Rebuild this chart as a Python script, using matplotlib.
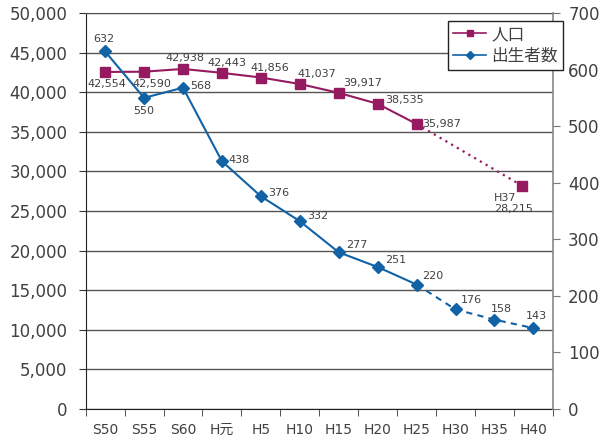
import matplotlib
matplotlib.use("Agg")
import matplotlib.pyplot as plt
from matplotlib.ticker import FuncFormatter, FixedLocator
from matplotlib.lines import Line2D

plt.rcParams['font.family'] = ['DejaVu Sans', 'Noto Sans CJK JP']

categories = ["S50", "S55", "S60", "H元", "H5", "H10", "H15", "H20", "H25", "H30", "H35", "H40"]
population = [42554, 42590, 42938, 42443, 41856, 41037, 39917, 38535, 35987]
pop_proj_label = "H37"
pop_proj_value = 28215
pop_proj_slot = 10.7
births = [632, 550, 568, 438, 376, 332, 277, 251, 220, 176, 158, 143]
births_actual_count = 9

POP_COLOR = "#961a5f"
BIRTH_COLOR = "#1262a6"
TEXT_COLOR = "#404040"

fig = plt.figure(figsize=(5.99, 4.38), dpi=100)
ax = fig.add_axes([0.143, 0.0662, 0.780, 0.9041])
ax2 = ax.twinx()

xs = list(range(len(categories)))

# left axis: population
ax.set_xlim(-0.5, len(categories) - 0.5)
ax.set_ylim(0, 50000)
ax.set_yticks(range(0, 50001, 5000))
ax.yaxis.set_major_formatter(FuncFormatter(lambda v, p: f"{int(v):,}"))
ax.grid(axis='y', color='#555555', linewidth=1.0)
ax.set_axisbelow(True)

ax.set_xticks(xs)
ax.set_xticklabels(categories)
ax.xaxis.set_minor_locator(FixedLocator([i - 0.5 for i in range(len(categories) + 1)]))
ax.tick_params(axis='x', which='major', length=0, pad=10, labelsize=10, labelcolor=TEXT_COLOR)
ax.tick_params(axis='x', which='minor', length=5, direction='out', color='#333333')
ax.tick_params(axis='y', length=5, direction='out', color='#333333', labelsize=12,
               labelcolor=TEXT_COLOR, pad=8)

ax.spines['top'].set_color('#555555')
ax.spines['left'].set_color('#222222')
ax.spines['bottom'].set_color('#222222')
ax.spines['right'].set_visible(False)

# right axis: births
ax2.set_ylim(0, 700)
ax2.set_yticks(range(0, 701, 100))
ax2.tick_params(axis='y', length=5, direction='out', color='#777777', labelsize=12,
                labelcolor=TEXT_COLOR, pad=6)
ax2.spines['right'].set_color('#888888')
ax2.spines['right'].set_linewidth(1.2)
for s in ['top', 'left', 'bottom']:
    ax2.spines[s].set_visible(False)

# population (left scale)
n_pop = len(population)
ax.plot(xs[:n_pop], population, color=POP_COLOR, linewidth=1.5, marker='s',
        markersize=7, zorder=4)
ax.plot([xs[n_pop - 1], pop_proj_slot], [population[-1], pop_proj_value],
        color=POP_COLOR, linewidth=1.6, linestyle=(0, (1, 2)), zorder=3)
ax.plot([pop_proj_slot], [pop_proj_value], color=POP_COLOR, marker='s',
        markersize=7, linestyle='none', zorder=4)

# births (right scale): actual solid, projection dashed
k = births_actual_count
ax2.plot(xs[:k], births[:k], color=BIRTH_COLOR, linewidth=1.5, marker='D',
         markersize=6, zorder=4)
ax2.plot(xs[k - 1:], births[k - 1:], color=BIRTH_COLOR, linewidth=1.5,
         linestyle=(0, (3, 2.5)), zorder=3)
ax2.plot(xs[k:], births[k:], color=BIRTH_COLOR, marker='D', markersize=6,
         linestyle='none', zorder=4)

lab_kw = dict(textcoords='offset pixels', fontsize=8, color=TEXT_COLOR, zorder=6)

pop_offsets = [(2, -12, 'center'), (8, -12, 'center'), (2, 11, 'center'),
               (5, 10, 'center'), (9, 10, 'center'), (17, 10, 'center'),
               (4, 10, 'left'), (8, 4, 'left'), (6, 0, 'left')]
for i, (v, (dx, dy, ha)) in enumerate(zip(population, pop_offsets)):
    ax.annotate(f"{v:,}", (xs[i], v), xytext=(dx, dy), ha=ha, va='center', **lab_kw)
ax.annotate(f"{pop_proj_label}\n{pop_proj_value:,}", (pop_proj_slot, pop_proj_value),
            xytext=(-28, -18), ha='left', va='center', linespacing=1.05, **lab_kw)

birth_offsets = [(-1, 12, 'center'), (0, -13, 'center'), (7, 2, 'left'),
                 (7, 1, 'left'), (7, 3, 'left'), (7, 5, 'left'),
                 (7, 7, 'left'), (7, 7, 'left'), (6, 9, 'left'),
                 (5, 9, 'left'), (-4, 11, 'left'), (-8, 12, 'left')]
for i, (v, (dx, dy, ha)) in enumerate(zip(births, birth_offsets)):
    ax2.annotate(f"{v}", (xs[i], v), xytext=(dx, dy), ha=ha, va='center', **lab_kw)

# legend
handles = [Line2D([], [], color=POP_COLOR, marker='s', markersize=5, linewidth=1.2),
           Line2D([], [], color=BIRTH_COLOR, marker='D', markersize=4, linewidth=1.2)]
leg = fig.legend(handles, ["人口", "出生者数"], loc='upper left',
                 bbox_to_anchor=(448 / 599, 1 - 21 / 438),
                 prop={'family': ['Noto Sans CJK JP'], 'size': 12},
                 frameon=True, fancybox=False, borderpad=0.3, handlelength=2.0,
                 handletextpad=0.3, labelspacing=0.3, borderaxespad=0)
leg.get_frame().set_edgecolor('#222222')
leg.get_frame().set_linewidth(1.0)
leg.get_frame().set_alpha(1.0)
for t in leg.get_texts():
    t.set_color(TEXT_COLOR)

fig.savefig("out.png", dpi=100)
